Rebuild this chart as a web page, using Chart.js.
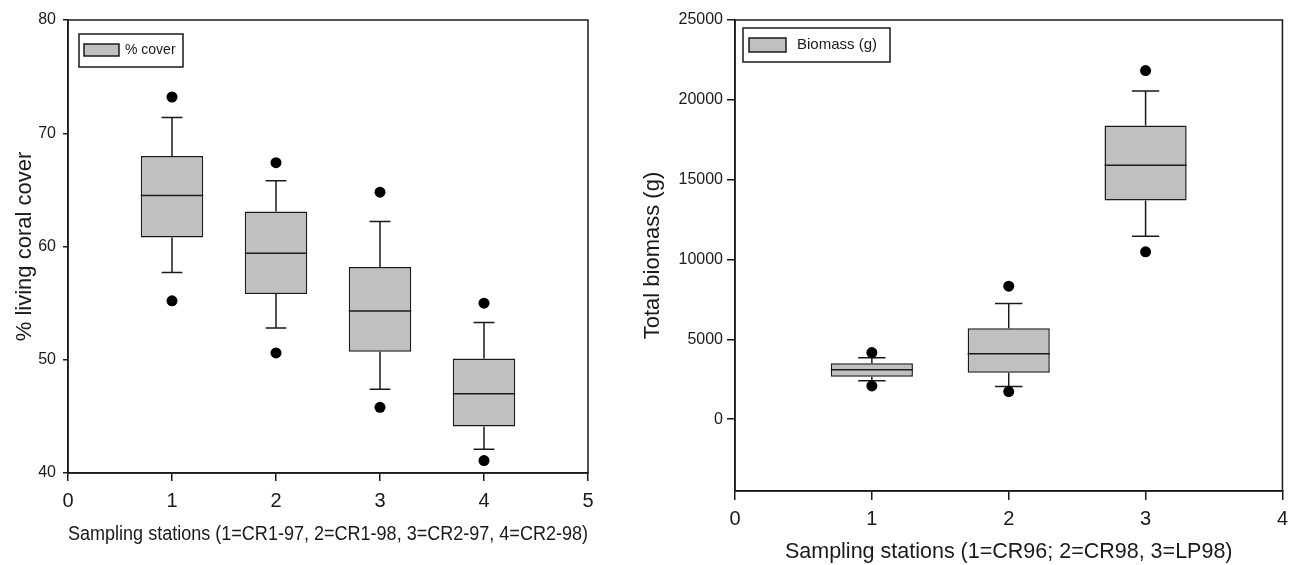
<!DOCTYPE html>
<html>
<head>
<meta charset="utf-8">
<script src="https://cdn.jsdelivr.net/npm/chart.js@4/dist/chart.umd.min.js"></script>
<style>
html, body { margin: 0; padding: 0; background: #ffffff; }
#wrap { position: relative; width: 1295px; height: 565px; overflow: hidden; }
.pane { position: absolute; top: 0; height: 565px; }
</style>
</head>
<body>
<div id="wrap">
  <div class="pane" style="left:0;width:625px"><canvas id="c1" width="625" height="565"></canvas></div>
  <div class="pane" style="left:625px;width:670px"><canvas id="c2" width="670" height="565"></canvas></div>
</div>
<script>
// ---------- Chart A: % living coral cover ----------
const stationsA = [1, 2, 3, 4];
const coverQ1 = [60.8, 55.8, 50.7, 44.1];
const coverMedian = [64.5, 59.4, 54.3, 47.0];
const coverQ3 = [68.0, 63.1, 58.2, 50.1];
const coverLowWhisker = [57.7, 52.8, 47.4, 42.1];
const coverHighWhisker = [71.4, 65.8, 62.2, 53.3];
const coverLowOutlier = [55.2, 50.6, 45.8, 41.1];
const coverHighOutlier = [73.2, 67.4, 64.8, 55.0];
const xTicksA = [0, 1, 2, 3, 4, 5];
const yTicksA = [40, 50, 60, 70, 80];

// ---------- Chart B: total biomass ----------
const stationsB = [1, 2, 3];
const bioQ1 = [2650, 2900, 13700];
const bioMedian = [3100, 4100, 15900];
const bioQ3 = [3500, 5700, 18400];
const bioLowWhisker = [2400, 2050, 11450];
const bioHighWhisker = [3850, 7250, 20550];
const bioLowOutlier = [2080, 1730, 10480];
const bioHighOutlier = [4170, 8330, 21830];
const xTicksB = [0, 1, 2, 3, 4];
const yTicksB = [0, 5000, 10000, 15000, 20000, 25000];

// ---------- styling ----------
const LINE = '#1a1a1a';
const TXT = '#1a1a1a';
const FILL = '#c0c0c0';
const BOX_HALF = 0.3;   // half box width in x units
const CAP_HALF = 0.1;   // half whisker cap width in x units

const hasNarrow = (() => {
  const c = document.createElement('canvas').getContext('2d');
  const s = 'Sampling stations 12345';
  c.font = '20px monospace';
  const a = c.measureText(s).width;
  c.font = '20px "Liberation Sans Narrow", monospace';
  const b = c.measureText(s).width;
  return Math.abs(a - b) > 0.5;
})();
const REG = "'Liberation Sans', Arial, sans-serif";
const NAR = hasNarrow ? "'Liberation Sans Narrow', 'Liberation Sans', sans-serif" : REG;

const frame = {
  id: 'frame',
  afterDraw(chart) {
    const { ctx, chartArea: a } = chart;
    ctx.save();
    ctx.strokeStyle = LINE;
    ctx.lineWidth = 1.5;
    ctx.strokeRect(a.left, a.top, a.right - a.left, a.bottom - a.top);
    ctx.restore();
  }
};

const legendBox = {
  id: 'legendBox',
  afterDraw(chart, args, o) {
    const { ctx, chartArea: a } = chart;
    const ds = chart.data.datasets[0];
    ctx.save();
    ctx.fillStyle = '#ffffff';
    ctx.fillRect(a.left + o.x, a.top + o.y, o.w, o.h);
    ctx.strokeStyle = LINE;
    ctx.lineWidth = 1.5;
    ctx.strokeRect(a.left + o.x, a.top + o.y, o.w, o.h);
    ctx.fillStyle = ds.backgroundColor;
    ctx.fillRect(a.left + o.sx, a.top + o.sy, o.sw, o.sh);
    ctx.strokeRect(a.left + o.sx, a.top + o.sy, o.sw, o.sh);
    ctx.fillStyle = TXT;
    ctx.font = o.fontSize + 'px ' + REG;
    ctx.textBaseline = 'middle';
    ctx.textAlign = 'left';
    ctx.fillText(ds.label, a.left + o.tx, a.top + o.sy + o.sh / 2);
    ctx.restore();
  }
};

function boxChart(id, o) {
  const whisk = [], med = [], outl = [];
  o.stations.forEach((s, i) => {
    whisk.push(
      { x: s - CAP_HALF, y: o.hiW[i] }, { x: s + CAP_HALF, y: o.hiW[i] }, { x: s, y: null },
      { x: s, y: o.hiW[i] }, { x: s, y: o.q3[i] }, { x: s, y: null },
      { x: s, y: o.q1[i] }, { x: s, y: o.loW[i] }, { x: s, y: null },
      { x: s - CAP_HALF, y: o.loW[i] }, { x: s + CAP_HALF, y: o.loW[i] }, { x: s, y: null }
    );
    med.push({ x: s - BOX_HALF, y: o.med[i] }, { x: s + BOX_HALF, y: o.med[i] }, { x: s, y: null });
    outl.push({ x: s, y: o.loO[i] }, { x: s, y: o.hiO[i] });
  });

  return new Chart(document.getElementById(id), {
    type: 'bar',
    data: {
      datasets: [
        {
          type: 'bar', label: o.label,
          data: o.stations.map((s, i) => ({ x: s, y: [o.q1[i], o.q3[i]] })),
          backgroundColor: FILL, borderColor: LINE, borderWidth: 1.5, borderSkipped: false,
          categoryPercentage: 1, barPercentage: BOX_HALF * 2, order: 3
        },
        {
          type: 'line', label: 'whiskers', data: whisk,
          borderColor: LINE, borderWidth: 1.5, pointRadius: 0, spanGaps: false, fill: false, tension: 0, order: 2
        },
        {
          type: 'line', label: 'median', data: med,
          borderColor: LINE, borderWidth: 1.5, pointRadius: 0, spanGaps: false, fill: false, tension: 0, order: 1
        },
        {
          type: 'scatter', label: 'outliers', data: outl,
          pointRadius: 5.5, pointBackgroundColor: '#000', pointBorderWidth: 0, backgroundColor: '#000', order: 0
        }
      ]
    },
    options: {
      responsive: false,
      devicePixelRatio: 1,
      animation: false,
      events: [],
      layout: { padding: o.pad },
      plugins: {
        legend: { display: false },
        tooltip: { enabled: false },
        legendBox: o.legend
      },
      scales: {
        x: {
          type: 'linear', min: o.xTicks[0], max: o.xTicks[o.xTicks.length - 1], offset: false,
          afterBuildTicks: s => { s.ticks = o.xTicks.map(v => ({ value: v })); },
          afterFit: s => { s.height = o.xAxisH; },
          ticks: { callback: v => String(v), font: { family: REG, size: 20 }, color: TXT, padding: o.xTickPad, maxRotation: 0, autoSkip: false },
          grid: { display: true, drawOnChartArea: false, drawTicks: true, tickLength: o.xTickLen, color: LINE, lineWidth: 1.5, offset: false },
          border: { display: true, color: LINE, width: 1.5 },
          title: { display: true, text: o.xTitle, font: { family: o.xTitleFam, size: o.xTitleSize }, color: TXT,
                   padding: { top: 0, bottom: o.xTitleCenter - o.xTitleSize * 0.6 } }
        },
        y: {
          type: 'linear', min: o.yRange[0], max: o.yRange[1],
          afterBuildTicks: s => { s.ticks = o.yTicks.map(v => ({ value: v })); },
          afterFit: s => { s.width = o.yAxisW; },
          ticks: { callback: v => String(v), font: { family: NAR, size: o.yTickSize }, color: TXT, padding: o.yTickPad },
          grid: { display: true, drawOnChartArea: false, drawTicks: true, tickLength: o.yTickLen, color: LINE, lineWidth: 1.5 },
          border: { display: true, color: LINE, width: 1.5 },
          title: { display: true, text: o.yTitle, font: { family: REG, size: o.yTitleSize }, color: TXT,
                   padding: { top: o.yTitleCenter - o.yTitleSize * 0.6, bottom: 0 } }
        }
      }
    },
    plugins: [frame, legendBox]
  });
}

boxChart('c1', {
  label: '% cover',
  stations: stationsA, q1: coverQ1, med: coverMedian, q3: coverQ3,
  loW: coverLowWhisker, hiW: coverHighWhisker, loO: coverLowOutlier, hiO: coverHighOutlier,
  xTicks: xTicksA, yTicks: yTicksA, yRange: [40, 80],
  pad: { top: 20, right: 37, bottom: 0, left: 0 },
  yAxisW: 68, xAxisH: 92,
  xTickPad: 8, xTickLen: 8, yTickPad: 7, yTickLen: 5, yTickSize: hasNarrow ? 17.5 : 16,
  xTitle: 'Sampling stations (1=CR1-97, 2=CR1-98, 3=CR2-97, 4=CR2-98)',
  xTitleFam: NAR, xTitleSize: hasNarrow ? 24 : 20, xTitleCenter: 31,
  yTitle: '% living coral cover', yTitleSize: 22, yTitleCenter: 25,
  legend: { x: 11, y: 14, w: 104, h: 33, sx: 16, sy: 24, sw: 35, sh: 12, tx: 57, fontSize: 14 }
});

boxChart('c2', {
  label: 'Biomass (g)',
  stations: stationsB, q1: bioQ1, med: bioMedian, q3: bioQ3,
  loW: bioLowWhisker, hiW: bioHighWhisker, loO: bioLowOutlier, hiO: bioHighOutlier,
  xTicks: xTicksB, yTicks: yTicksB, yRange: [-4500, 25000],
  pad: { top: 20, right: 8, bottom: 0, left: 0 },
  yAxisW: 110, xAxisH: 74,
  xTickPad: 7, xTickLen: 9, yTickPad: 4, yTickLen: 8, yTickSize: hasNarrow ? 17.5 : 16,
  xTitle: 'Sampling stations (1=CR96; 2=CR98, 3=LP98)',
  xTitleFam: REG, xTitleSize: 21.5, xTitleCenter: 13,
  yTitle: 'Total biomass (g)', yTitleSize: 22, yTitleCenter: 28,
  legend: { x: 8, y: 8, w: 147, h: 34, sx: 14, sy: 18, sw: 37, sh: 14, tx: 62, fontSize: 15 }
});
</script>
</body>
</html>
